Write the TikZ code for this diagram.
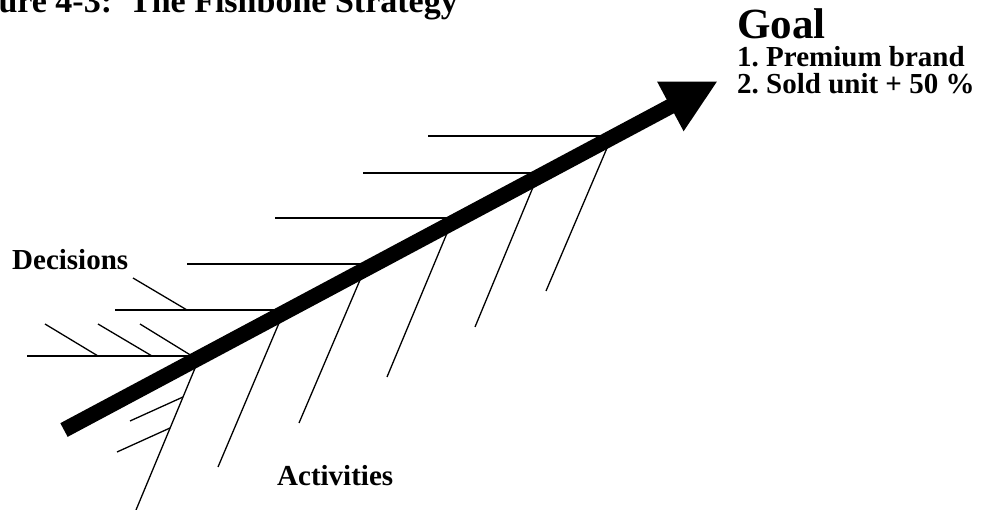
\documentclass[tikz,border=0pt]{standalone}
\usepackage{fontspec}
\setmainfont{Liberation Serif}
\usetikzlibrary{arrows.meta}
\frenchspacing
\begin{document}
\begin{tikzpicture}[x=1pt,y=-1pt,
  bone/.style={line width=1.3pt, line cap=butt},
  spine/.style={line width=15.5pt, -{Triangle[length=54pt,width=52pt]}},
  lbl/.style={inner sep=0pt, anchor=base west, font=\bfseries\fontsize{29}{29}\selectfont},
  goaltxt/.style={inner sep=0pt, anchor=base west, font=\bfseries\fontsize{43}{43}\selectfont},
  titletxt/.style={inner sep=0pt, anchor=base east, font=\bfseries\fontsize{34}{34}\selectfont}]
\useasboundingbox (0,0) rectangle (985,510);
\clip (0,0) rectangle (985,510);
% horizontal bones (decision side)
\draw[bone] (428,136) -- (615,136);
\draw[bone] (363,173) -- (546,173);
\draw[bone] (275,218) -- (462,218);
\draw[bone] (187,264) -- (376,264);
\draw[bone] (115,310) -- (290,310);
\draw[bone] (27,356) -- (204,356);
% decision twigs
\draw[bone] (133,278) -- (187,310);
\draw[bone] (45,324) -- (98,356);
\draw[bone] (98,324) -- (152,356);
\draw[bone] (140,324) -- (192,356);
% activity bones
\draw[bone] (198,361) -- (136,510);
\draw[bone] (282,316) -- (218,467);
\draw[bone] (363,273) -- (299,423);
\draw[bone] (450,226) -- (387,377);
\draw[bone] (536,180) -- (475,327);
\draw[bone] (610,141) -- (546,291);
% activity twigs
\draw[bone] (183,397) -- (130,421);
\draw[bone] (170,428) -- (117,452);
% main spine
\coordinate (tail) at (64,430);
\coordinate (tip) at (718,81);
\draw[spine] (tail) -- (tip);
% texts
\node[titletxt] (title) at (458,13) {ure 4-3:\ \ The Fishbone Strategy};
\node[goaltxt] (goal) at (737,39) {Goal};
\node[lbl] (g1) at (737,67) {1. Premium brand};
\node[lbl] (g2) at (737,94) {2. Sold unit + 50 \%};
\node[lbl] (dec) at (12,270) {Decisions};
\node[lbl] (act) at (277,485) {Activities};
\end{tikzpicture}
\end{document}
